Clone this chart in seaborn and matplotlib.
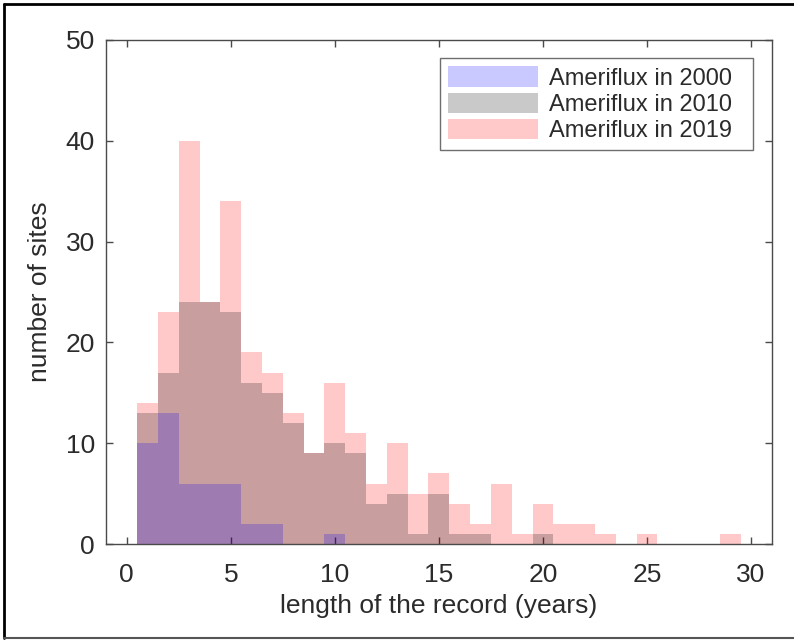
import numpy as np
import pandas as pd
import matplotlib
matplotlib.use("Agg")
import matplotlib.pyplot as plt
import seaborn as sns
from matplotlib.lines import Line2D

# record length (years), one bin per year
years = list(range(1, 30))
sites_2000 = [10, 13, 6, 6, 6, 2, 2, 0, 0, 1, 0, 0, 0, 0, 0,
              0, 0, 0, 0, 0, 0, 0, 0, 0, 0, 0, 0, 0, 0]
sites_2010 = [13, 17, 24, 24, 23, 16, 15, 12, 9, 10, 9, 4, 5, 1, 5,
              1, 1, 0, 0, 1, 0, 0, 0, 0, 0, 0, 0, 0, 0]
sites_2019 = [14, 23, 40, 24, 34, 19, 17, 13, 9, 16, 11, 6, 10, 5, 7,
              4, 2, 6, 1, 4, 2, 2, 1, 0, 1, 0, 0, 0, 1]
labels = ["Ameriflux in 2000", "Ameriflux in 2010", "Ameriflux in 2019"]
colors = ["blue", "black", "red"]

sns.set_style("ticks")
plt.rcParams["font.family"] = ["Liberation Sans", "DejaVu Sans"]
dark = "#2b2b2b"
axcol = "#4a4a4a"

fig = plt.figure(figsize=(7.94, 6.41), dpi=100)
ax = fig.add_axes([0.1335, 0.1513, 0.8385, 0.7863])

# draw 2019 first so the 2000 bars sit on top (bluish overlap)
series = list(zip([sites_2000, sites_2010, sites_2019], labels, colors))
for counts, lab, col in series[::-1]:
    df = pd.DataFrame({"years": years, "n": counts})
    sns.histplot(data=df, x="years", weights="n", binwidth=1, binrange=(0.5, 29.5),
                 color=col, alpha=0.21, linewidth=0, ax=ax, label=lab)

ax.set_xlim(-1, 31)
ax.set_ylim(0, 50)
ax.set_xticks(range(0, 31, 5))
ax.set_yticks(range(0, 51, 10))
ax.tick_params(direction="in", top=True, right=True, length=5, width=1,
               labelsize=19, colors=axcol, labelcolor=dark)
ax.tick_params(axis="x", pad=14)
ax.tick_params(axis="y", pad=8)
for s in ax.spines.values():
    s.set_visible(True)
    s.set_color(axcol)
    s.set_linewidth(1)
ax.set_xlabel("length of the record (years)", fontsize=19, color=dark, labelpad=5)
ax.set_ylabel("number of sites", fontsize=19, color=dark, labelpad=10)

handles, labs = ax.get_legend_handles_labels()
order = [labs.index(l) for l in labels]
leg = ax.legend([handles[i] for i in order], labels,
                loc="upper left", bbox_to_anchor=(0.502, 0.788, 0.47, 0.176),
                mode="expand", borderaxespad=0,
                fontsize=17, frameon=True, fancybox=False, handlelength=3.8,
                handleheight=0.95, handletextpad=0.45, labelspacing=0.12,
                borderpad=0.35)
leg.get_frame().set_edgecolor(axcol)
leg.get_frame().set_linewidth(1)
for t in leg.get_texts():
    t.set_color(dark)

# outer frame of the picture
fig.add_artist(Line2D([0.005, 0.005], [0.004, 0.993], transform=fig.transFigure, color="black", lw=2))
fig.add_artist(Line2D([0.005, 1.0], [0.993, 0.993], transform=fig.transFigure, color="black", lw=2))
fig.add_artist(Line2D([0.005, 1.0], [0.004, 0.004], transform=fig.transFigure, color="#555555", lw=1.5))

fig.savefig("out.png", dpi=100)
